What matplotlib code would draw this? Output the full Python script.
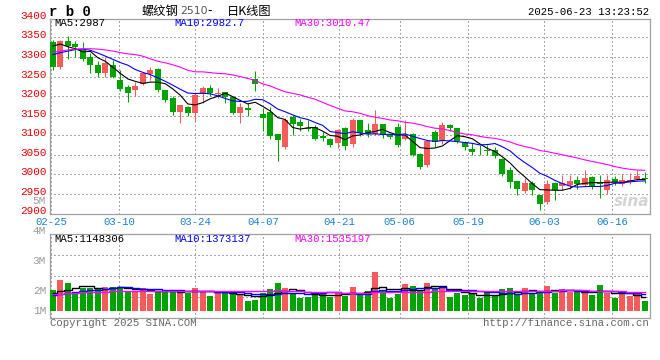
import numpy as np
import matplotlib
matplotlib.use('Agg')
import matplotlib.pyplot as plt

plt.rcParams['font.family'] = ['Liberation Mono', 'DejaVu Sans Mono']
CJK = ['Noto Sans CJK SC', 'DejaVu Sans']

# ---- daily candles, rb0, 2025-02-25 .. 2025-06-23 ----
opens = [3337, 3274, 3341, 3332, 3319, 3299, 3280, 3258, 3280, 3241,
         3223, 3216, 3230, 3257, 3268, 3216, 3195, 3160, 3172, 3158,
         3205, 3220, 3205, 3210, 3197, 3158, 3169, 3243, 3154, 3160,
         3104, 3071, 3146, 3133, 3118, 3122, 3097, 3090, 3080, 3118,
         3078, 3139, 3114, 3104, 3129, 3101, 3121, 3090, 3104, 3053,
         3023, 3107, 3084, 3127, 3118, 3082, 3065, 3063, 3063, 3061,
         3039, 3010, 2982, 2957, 2978, 2948, 2929, 2978, 2971, 2974,
         2985, 2974, 2993, 2978, 2961, 2988, 2976, 2983, 2988, 2991]
highs = [3343, 3343, 3354, 3341, 3339, 3311, 3290, 3299, 3292, 3267,
         3228, 3237, 3262, 3275, 3272, 3216, 3199, 3178, 3175, 3211,
         3226, 3228, 3220, 3210, 3200, 3182, 3182, 3264, 3169, 3173,
         3104, 3144, 3152, 3141, 3139, 3127, 3107, 3093, 3116, 3122,
         3144, 3139, 3131, 3165, 3129, 3103, 3131, 3138, 3106, 3055,
         3088, 3114, 3133, 3129, 3118, 3085, 3080, 3076, 3074, 3070,
         3042, 3020, 2982, 2991, 2982, 2948, 2986, 2980, 2998, 2998,
         2996, 3010, 2995, 2998, 2998, 2995, 3001, 3003, 3010, 3007]
lows = [3267, 3268, 3294, 3301, 3290, 3260, 3250, 3250, 3246, 3214,
        3186, 3200, 3228, 3241, 3211, 3186, 3152, 3132, 3150, 3137,
        3182, 3200, 3196, 3182, 3154, 3131, 3150, 3214, 3111, 3090,
        3033, 3064, 3101, 3112, 3112, 3087, 3084, 3070, 3067, 3063,
        3071, 3097, 3095, 3101, 3093, 3090, 3071, 3088, 3046, 3014,
        3020, 3071, 3078, 3112, 3080, 3063, 3050, 3050, 3050, 3041,
        2995, 2965, 2948, 2953, 2948, 2910, 2925, 2934, 2961, 2963,
        2963, 2969, 2963, 2940, 2951, 2974, 2971, 2976, 2986, 2979]
closes = [3274, 3340, 3329, 3326, 3296, 3280, 3258, 3284, 3250, 3218,
          3209, 3227, 3258, 3267, 3216, 3190, 3160, 3178, 3156, 3203,
          3220, 3209, 3209, 3197, 3158, 3171, 3165, 3230, 3145, 3099,
          3087, 3139, 3129, 3124, 3116, 3091, 3092, 3074, 3114, 3073,
          3138, 3105, 3103, 3129, 3101, 3095, 3076, 3101, 3050, 3020,
          3084, 3082, 3127, 3118, 3084, 3070, 3056, 3061, 3060, 3046,
          3001, 2980, 2963, 2978, 2959, 2925, 2976, 2959, 2978, 2982,
          2976, 2991, 2968, 2976, 2986, 2980, 2986, 2986, 2995, 2988]

ma5 = [3328, 3333, 3326, 3321, 3313, 3314.2, 3297.8, 3288.8, 3273.6, 3258,
       3243.8, 3237.6, 3232.4, 3235.8, 3235.4, 3231.6, 3218.2, 3202.2, 3180, 3177.4,
       3183.4, 3193.2, 3199.4, 3207.6, 3198.6, 3188.8, 3180, 3184.2, 3173.8, 3162,
       3145.2, 3140, 3119.8, 3115.6, 3119, 3119.8, 3110.4, 3099.4, 3097.4, 3088.8,
       3098.2, 3100.8, 3106.6, 3109.6, 3115.2, 3106.6, 3100.8, 3100.4, 3084.6, 3068.4,
       3066.2, 3067.4, 3072.6, 3086.2, 3099, 3096.2, 3091, 3077.8, 3066.2, 3058.6,
       3044.8, 3029.6, 3010, 2993.6, 2976.2, 2961, 2960.2, 2959.4, 2959.4, 2964,
       2974.2, 2977.2, 2979, 2978.6, 2979.4, 2980.2, 2979.2, 2982.8, 2986.6, 2987]
ma10 = [3306, 3311, 3315, 3319, 3320, 3317, 3310, 3302, 3294, 3285.5,
        3279, 3267.7, 3260.6, 3254.7, 3246.7, 3237.7, 3227.9, 3217.3, 3207.9, 3206.4,
        3207.5, 3205.7, 3200.8, 3193.8, 3188, 3186.1, 3186.6, 3191.8, 3190.7, 3180.3,
        3167, 3160, 3152, 3144.7, 3140.5, 3132.5, 3125.2, 3109.6, 3106.5, 3103.9,
        3109, 3105.6, 3103, 3103.5, 3102, 3102.4, 3100.8, 3103.5, 3097.1, 3091.8,
        3086.4, 3084.1, 3086.5, 3085.4, 3083.7, 3081.2, 3079.2, 3075.2, 3076.2, 3078.8,
        3070.5, 3060.3, 3043.9, 3029.9, 3017.4, 3002.9, 2994.9, 2984.7, 2976.5, 2970.1,
        2967.6, 2968.7, 2969.2, 2969, 2971.7, 2977.2, 2978.2, 2980.9, 2982.6, 2983.2]
ma30 = [3312, 3315, 3318, 3320, 3321, 3321, 3320, 3318, 3315, 3311,
        3308, 3306, 3302, 3295, 3289, 3285, 3280, 3274, 3266, 3262,
        3262, 3260, 3258, 3257, 3254, 3250, 3245, 3240, 3231, 3226,
        3218, 3211, 3207, 3203, 3197, 3192, 3184, 3176, 3169, 3162,
        3160, 3156, 3150, 3146, 3143, 3139, 3137, 3133, 3131, 3127,
        3122, 3118, 3116, 3112, 3107, 3103, 3101, 3097, 3094, 3092,
        3088, 3083, 3076, 3071, 3067, 3061, 3058, 3054, 3050, 3046,
        3042, 3037, 3033, 3029, 3025, 3020, 3016, 3013, 3011, 3010.5]

# volume, millions of lots
volume = [1.72, 2.54, 2.32, 1.58, 1.91, 1.86, 1.80, 1.99, 1.99, 1.99,
          1.64, 1.58, 1.91, 1.37, 1.64, 1.58, 1.58, 1.72, 1.50, 1.91,
          1.66, 1.25, 1.45, 1.58, 1.37, 1.37, 0.84, 0.90, 1.45, 1.80,
          2.27, 1.91, 1.50, 1.09, 1.17, 1.45, 1.50, 1.17, 1.45, 1.23,
          1.99, 1.50, 1.64, 3.22, 1.64, 1.09, 1.39, 2.21, 2.07, 1.72,
          2.32, 1.86, 2.07, 1.17, 1.45, 1.31, 1.37, 1.09, 1.45, 1.23,
          1.80, 1.91, 1.31, 1.91, 1.50, 1.58, 2.07, 1.45, 1.80, 1.58,
          1.58, 1.53, 1.31, 2.13, 1.50, 1.09, 1.37, 1.25, 1.37, 0.82]
vma5 = [1.45, 1.60, 1.72, 1.85, 2.01, 2.04, 1.89, 1.83, 1.91, 1.93,
        1.88, 1.84, 1.82, 1.70, 1.63, 1.62, 1.62, 1.58, 1.60, 1.66,
        1.67, 1.61, 1.55, 1.57, 1.46, 1.40, 1.32, 1.21, 1.19, 1.27,
        1.45, 1.67, 1.79, 1.71, 1.59, 1.42, 1.34, 1.28, 1.35, 1.36,
        1.47, 1.47, 1.56, 1.92, 2.00, 1.82, 1.80, 1.91, 1.68, 1.70,
        1.94, 2.04, 2.01, 1.83, 1.77, 1.57, 1.47, 1.28, 1.33, 1.29,
        1.39, 1.50, 1.54, 1.63, 1.69, 1.64, 1.67, 1.70, 1.68, 1.70,
        1.70, 1.59, 1.56, 1.63, 1.61, 1.51, 1.48, 1.47, 1.32, 1.148]
vma10 = [1.30, 1.40, 1.48, 1.55, 1.62, 1.70, 1.76, 1.82, 1.88, 1.97,
         1.96, 1.87, 1.83, 1.80, 1.78, 1.75, 1.73, 1.70, 1.65, 1.64,
         1.65, 1.61, 1.57, 1.59, 1.56, 1.54, 1.47, 1.38, 1.38, 1.37,
         1.43, 1.49, 1.50, 1.45, 1.43, 1.44, 1.50, 1.53, 1.53, 1.47,
         1.45, 1.41, 1.42, 1.63, 1.68, 1.64, 1.63, 1.74, 1.80, 1.85,
         1.88, 1.92, 1.96, 1.75, 1.74, 1.76, 1.76, 1.64, 1.58, 1.53,
         1.48, 1.49, 1.41, 1.48, 1.49, 1.52, 1.59, 1.62, 1.66, 1.69,
         1.67, 1.63, 1.63, 1.65, 1.65, 1.60, 1.53, 1.51, 1.47, 1.373]
vma30 = [1.40, 1.43, 1.47, 1.50, 1.52, 1.54, 1.56, 1.58, 1.60, 1.61,
         1.62, 1.63, 1.63, 1.64, 1.64, 1.64, 1.65, 1.65, 1.65, 1.66,
         1.66, 1.66, 1.66, 1.66, 1.66, 1.66, 1.65, 1.65, 1.66, 1.66,
         1.68, 1.66, 1.63, 1.61, 1.59, 1.58, 1.57, 1.54, 1.52, 1.50,
         1.51, 1.50, 1.50, 1.56, 1.56, 1.54, 1.53, 1.55, 1.57, 1.56,
         1.59, 1.61, 1.63, 1.61, 1.62, 1.61, 1.63, 1.64, 1.64, 1.62,
         1.60, 1.60, 1.60, 1.62, 1.63, 1.64, 1.66, 1.67, 1.68, 1.69,
         1.68, 1.68, 1.67, 1.63, 1.63, 1.63, 1.63, 1.59, 1.57, 1.535]

date_idx = [0, 9, 19, 28, 38, 46, 55, 65, 74]
date_labels = ['02-25', '03-10', '03-24', '04-07', '04-21', '05-06', '05-19', '06-03', '06-16']
price_ticks = [2900, 2950, 3000, 3050, 3100, 3150, 3200, 3250, 3300, 3350, 3400]
vol_labels = ['5M', '4M', '3M', '2M', '1M']
price_ma_text = ['MA5:2987', 'MA10:2982.7', 'MA30:3010.47']
vol_ma_text = ['MA5:1148306', 'MA10:1373137', 'MA30:1535197']

RED = '#f65a5a'
GREEN = '#00a400'
MA_COLORS = ['black', '#0000ff', '#ff00ff']
SPINE = '#a0a0a0'
GRID = '#a8a8a8'
DOTS = (0, (1.2, 1.8))
FS = 7.3

W, H = 660, 360
def fx(x):
    return x / W
def fy(y):
    return 1 - y / H

fig = plt.figure(figsize=(6.6, 3.6), dpi=100)
ax = fig.add_axes([fx(50.5), fy(213.5), 599 / W, 194.5 / H])
ax2 = fig.add_axes([fx(50.5), fy(318), 599 / W, 84 / H])

o = np.array(opens); c = np.array(closes)
x = np.arange(len(c))
cols = np.where(c >= o, RED, GREEN)

# sina's date grid runs a touch wider than the candle spacing
grid_x = np.array(date_idx) * 1.0125 - 0.27

for a in (ax, ax2):
    a.set_xlim(-0.33, 79.64)
    for s in a.spines.values():
        s.set_color(SPINE)
        s.set_linewidth(0.9)
    a.tick_params(length=0)
ax.set_ylim(2900, 3397)
ax2.set_ylim(-0.574, 6.31)

# dotted grey grid
ax.set_yticks(price_ticks[1:-1])
ax.set_yticklabels([])
ax.set_xticks(grid_x, date_labels)
ax.tick_params(axis='x', colors='#1a80d0', labelsize=FS + 0.4, pad=2.5)
ax.grid(True, color=GRID, lw=0.8, ls=DOTS, antialiased=False)
ax2.set_yticks([6.31 - f * 6.884 for f in (0.25, 0.5, 0.75)])
ax2.set_yticklabels([])
ax2.set_xticks(grid_x)
ax2.set_xticklabels([])
ax2.grid(True, color=GRID, lw=0.8, ls=DOTS, antialiased=False)
for a in (ax, ax2):
    a.set_axisbelow(True)

# candles
ax.vlines(x, lows, highs, colors=cols, lw=0.75, zorder=3)
ax.bar(x, np.maximum(np.abs(c - o), 2.5), width=0.8, bottom=np.minimum(o, c),
       color=cols, linewidth=0, zorder=3)
for ma, col in zip([ma5, ma10, ma30], MA_COLORS):
    ax.plot(x, ma, color=col, lw=0.8, zorder=4)

# volume
ax2.bar(x, volume, width=0.8, color=cols, linewidth=0, zorder=3)
for ma, col in zip([vma5, vma10, vma30], MA_COLORS):
    ax2.plot(x, ma, color=col, lw=1.0, drawstyle='steps-mid', zorder=4)

for v in price_ticks:
    ax.annotate(str(v), xy=(0, v), xycoords=('axes fraction', 'data'),
                xytext=(-4, 2), textcoords='offset pixels', ha='right', va='center',
                color='#ee0000', fontsize=FS + 0.6, annotation_clip=False)

# legends of the moving averages
for txt, col, px in zip(price_ma_text, MA_COLORS, [54, 174, 294]):
    fig.text(fx(px), fy(23.5), txt, color=col, fontsize=FS + 0.4, va='center')
for txt, col, px in zip(vol_ma_text, MA_COLORS, [54, 174, 294]):
    fig.text(fx(px), fy(238.5), txt, color=col, fontsize=FS + 0.4, va='center')

for lab, py in zip(vol_labels, [200.7, 230.7, 260.7, 290.7, 311]):
    fig.text(fx(46), fy(py), lab, color='#999999', fontsize=FS + 0.6, ha='right', va='center')

# header
fig.text(fx(49), fy(12), 'r b 0', fontsize=10, fontweight='bold', va='center')
fig.text(fx(142), fy(11), '螺纹钢', family=CJK, fontsize=8.8, va='center')
fig.text(fx(180), fy(11.5), '2510', family='DejaVu Sans', color='#555555', fontsize=7.8, va='center')
fig.text(fx(207), fy(11), '-', family='DejaVu Sans', fontsize=9, va='center')
fig.text(fx(227), fy(11), '日K线图', family=CJK, fontsize=8.8, va='center')
fig.text(fx(649), fy(12), '2025-06-23 13:23:52', fontsize=FS + 0.4, ha='right', va='center')

# footer
fig.text(fx(50), fy(323.5), 'Copyright 2025 SINA.COM', color='#666666', fontsize=FS + 0.4, va='center')
fig.text(fx(649), fy(323.5), 'http://finance.sina.com.cn', color='#666666', fontsize=FS + 0.4,
         ha='right', va='center')

# watermark
fig.text(fx(632), fy(201), 'sina', family='DejaVu Sans', fontsize=11, fontstyle='italic',
         fontweight='bold', color='#d4d4d4', ha='center', va='center', zorder=0)

fig.savefig('out.png', dpi=100)
